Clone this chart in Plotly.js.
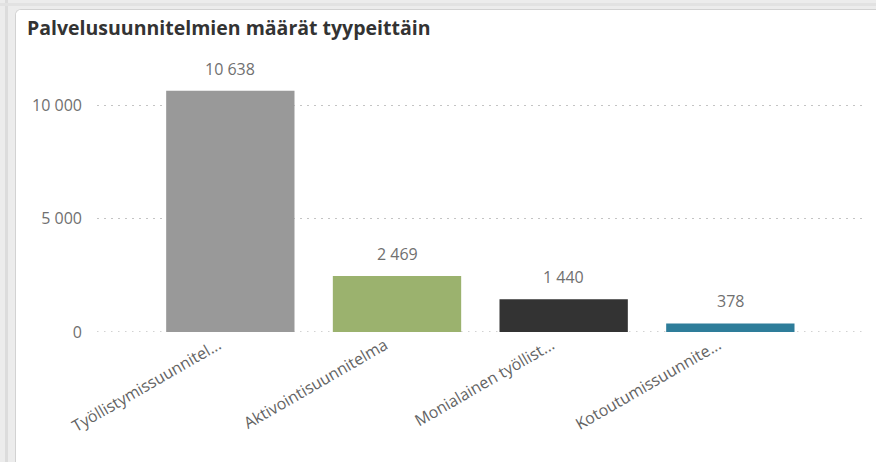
<!DOCTYPE html>
<html>
<head>
<meta charset="utf-8">
<script src="https://cdn.plot.ly/plotly-3.0.1.min.js"></script>
<style>
  html, body { margin: 0; padding: 0; }
  body { width: 876px; height: 462px; overflow: hidden; background: #ececec; position: relative; }
  #band { position: absolute; left: 5px; top: 0; width: 3px; height: 462px; background: #dcdcdc; }
  #topband { position: absolute; left: 0; top: 3px; width: 876px; height: 3px; background: #e2e2e2; }
  #card { position: absolute; left: 15px; top: 9px; width: 861px; height: 453px; background: #fff;
          border-left: 1px solid #d2d2d2; border-top: 1px solid #d2d2d2; border-top-left-radius: 6px; overflow: hidden; }
  #chart { width: 861px; height: 453px; }
</style>
</head>
<body>
<div id="band"></div>
<div id="topband"></div>
<div id="card"><div id="chart"></div></div>
<script>
const categories = ["Työllistymissuunnitel...", "Aktivointisuunnitelma", "Monialainen työllist...", "Kotoutumissuunnite..."];
const values = [10638, 2469, 1440, 378];
const valueLabels = ["10 638", "2 469", "1 440", "378"];
const barColors = ["#999999", "#9bb26e", "#333333", "#2e7d9a"];
const yTickVals = [0, 5000, 10000];
const yTickText = ["0", "5 000", "10 000"];
const chartTitle = "Palvelusuunnitelmien määrät tyypeittäin";

const FONT = "Open Sans, DejaVu Sans, sans-serif";

const trace = {
  type: "bar",
  x: categories,
  y: values,
  marker: { color: barColors },
  width: 0.77,
  hoverinfo: "none"
};

const annotations = categories.map((c, i) => ({
  x: c, y: values[i], xref: "x", yref: "y",
  text: valueLabels[i], showarrow: false,
  yanchor: "bottom", yshift: 9,
  font: { family: FONT, size: 16, color: "#707070" }
}));

const layout = {
  width: 861, height: 453,
  margin: { l: 81, r: 10, t: 50, b: 131 },
  paper_bgcolor: "#ffffff",
  plot_bgcolor: "#ffffff",
  showlegend: false,
  title: {
    text: "<b>" + chartTitle + "</b>",
    xref: "container", yref: "container",
    x: 11 / 861, xanchor: "left",
    y: 1 - 18 / 453, yanchor: "middle",
    font: { family: FONT, size: 19.5, color: "#333333" }
  },
  xaxis: {
    range: [-0.8, 3.82],
    showgrid: false, zeroline: false, showline: false,
    ticks: "", tickangle: -30,
    ticklabelshift: -12,
    tickfont: { family: FONT, size: 16, color: "#636363" }
  },
  yaxis: {
    range: [0, 12000],
    tickvals: yTickVals, ticktext: yTickText,
    showgrid: true, gridcolor: "#c4c4c4", griddash: "1.5px,5.5px", gridwidth: 1.5,
    zeroline: false, showline: false, ticks: "",
    ticklabelstandoff: 14,
    tickfont: { family: FONT, size: 16, color: "#707070" }
  },
  shapes: [{
    type: "line", xref: "paper", yref: "y", x0: 0, x1: 1, y0: 0, y1: 0,
    line: { color: "#c4c4c4", width: 1.5, dash: "1.5px,5.5px" }, layer: "below"
  }],
  annotations: annotations,
  bargap: 0.23
};

Plotly.newPlot("chart", [trace], layout, { displayModeBar: false, staticPlot: true });
</script>
</body>
</html>
